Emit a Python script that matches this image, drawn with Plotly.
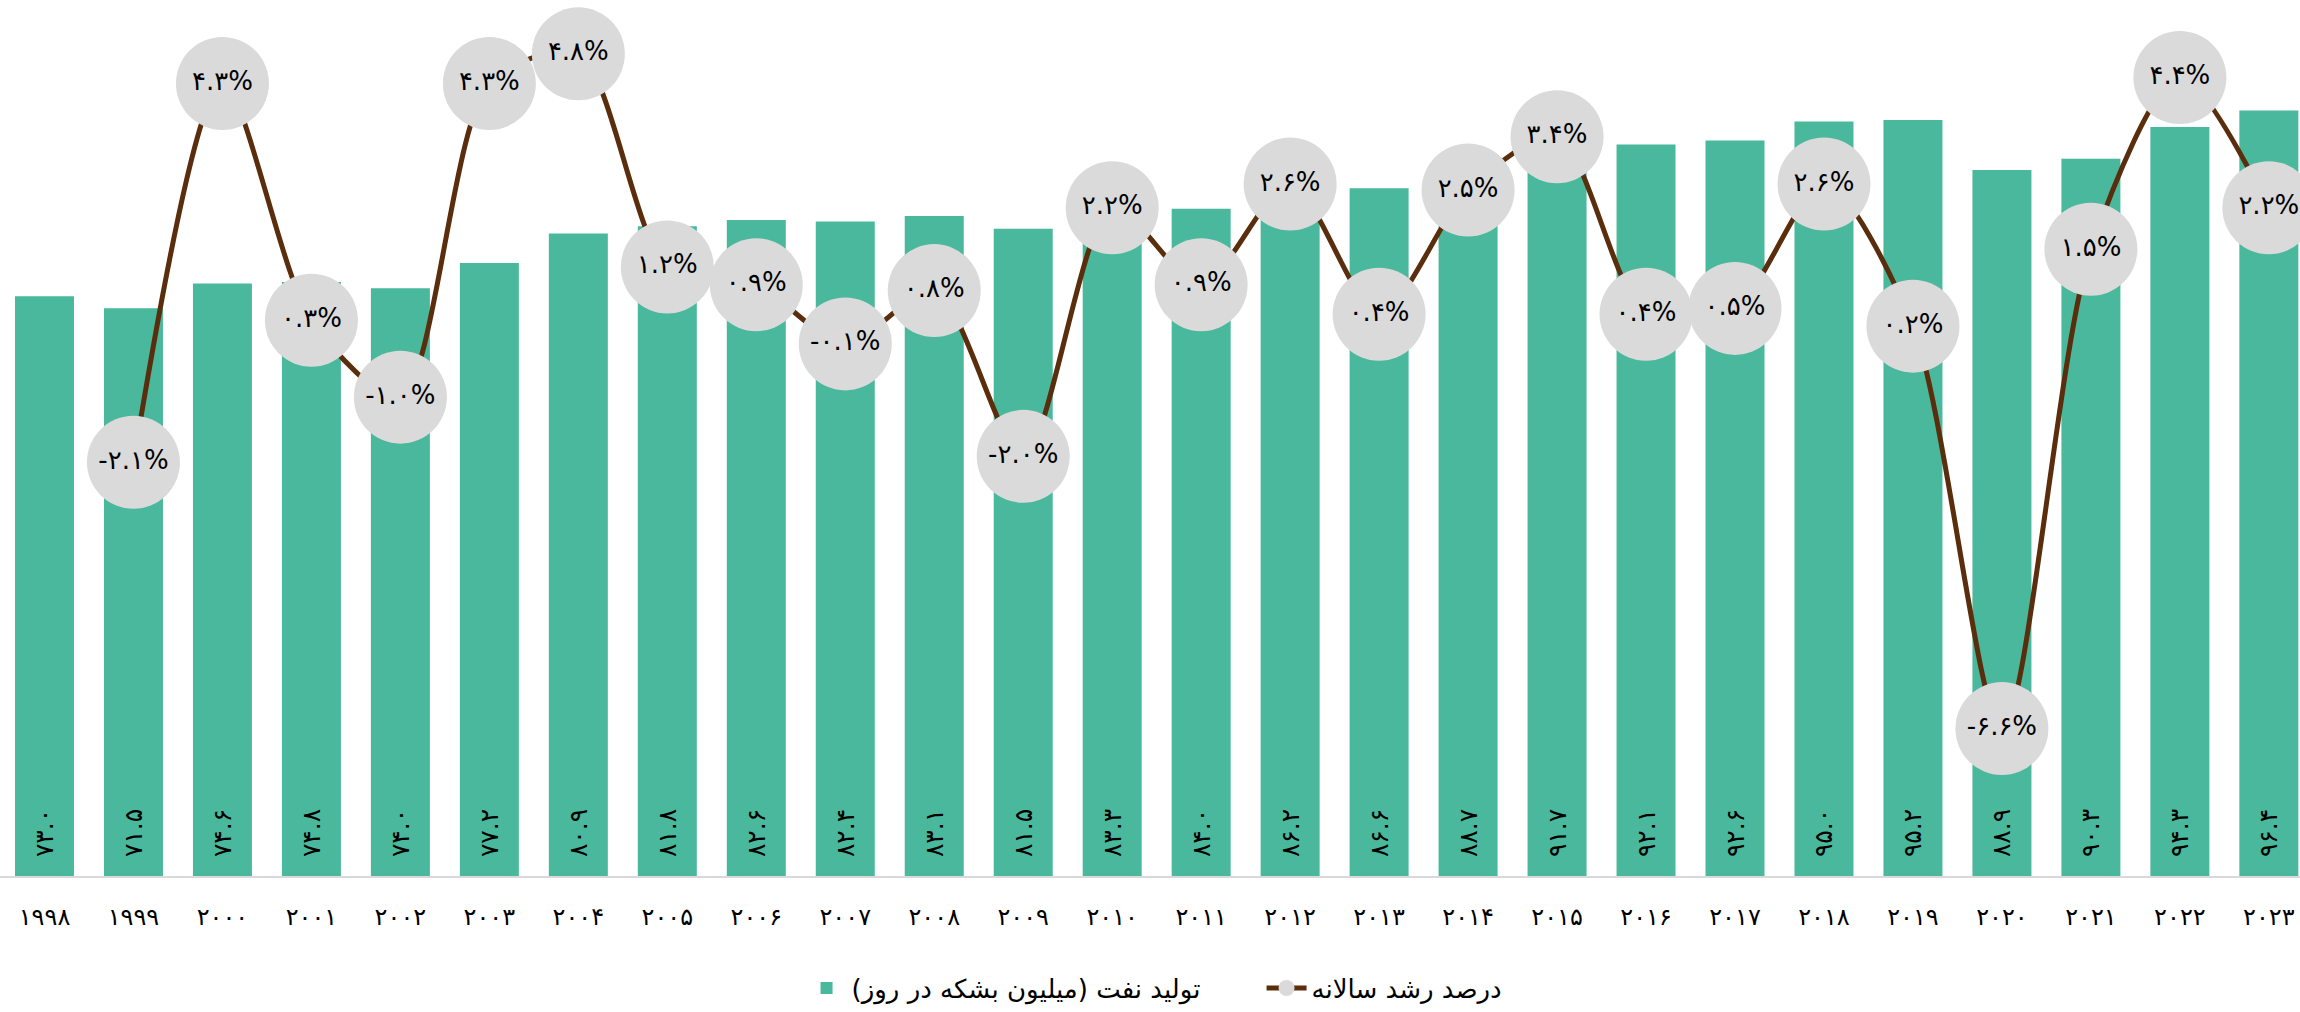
import plotly.graph_objects as go

years = [1998, 1999, 2000, 2001, 2002, 2003, 2004, 2005, 2006, 2007, 2008, 2009, 2010,
         2011, 2012, 2013, 2014, 2015, 2016, 2017, 2018, 2019, 2020, 2021, 2022, 2023]
production = [73.0, 71.5, 74.6, 74.8, 74.0, 77.2, 80.9, 81.8, 82.6, 82.4, 83.1, 81.5, 83.3,
              84.0, 86.2, 86.6, 88.7, 91.7, 92.1, 92.6, 95.0, 95.2, 88.9, 90.3, 94.3, 96.4]
growth = [None, -2.1, 4.3, 0.3, -1.0, 4.3, 4.8, 1.2, 0.9, -0.1, 0.8, -2.0, 2.2,
          0.9, 2.6, 0.4, 2.5, 3.4, 0.4, 0.5, 2.6, 0.2, -6.6, 1.5, 4.4, 2.2]

bar_name = "تولید نفت (میلیون بشکه در روز)\u200f"
line_name = "درصد رشد سالانه"

FA = str.maketrans("0123456789", "۰۱۲۳۴۵۶۷۸۹")


def fa(s):
    return s.translate(FA)


year_labels = [fa(str(y)) for y in years]
prod_labels = ["\u00a0\u00a0" + fa(f"{v:.1f}") for v in production]
growth_labels = [fa(f"{g:.1f}%") if g is not None else "" for g in growth]

FONT = "DejaVu Sans"

fig = go.Figure()
fig.add_trace(go.Bar(
    x=year_labels, y=production, name=bar_name,
    marker=dict(color="#49B89C", line=dict(width=0)),
    text=prod_labels, textposition="inside", insidetextanchor="start",
    textangle=-90, textfont=dict(size=25, color="black", family=FONT),
    hoverinfo="skip",
))
fig.add_trace(go.Scatter(
    x=year_labels, y=growth, name=line_name, yaxis="y2",
    mode="lines+markers+text",
    line=dict(color="#5A2D0C", width=5, shape="spline", smoothing=0.8),
    marker=dict(size=93, color="#DADADA", line=dict(width=0)),
    text=growth_labels, textposition="middle center",
    textfont=dict(size=26, color="black", family=FONT),
    cliponaxis=False, connectgaps=False, hoverinfo="skip",
))

fig.update_layout(
    width=2300, height=1012,
    margin=dict(l=0, r=0, t=0, b=127),
    paper_bgcolor="white", plot_bgcolor="white",
    font=dict(family=FONT, size=22, color="black"),
    bargap=0.337,
    showlegend=True,
    legend=dict(orientation="h", x=0.3485, xanchor="left", y=-0.128, yanchor="middle",
                entrywidth=405, itemwidth=40,
                font=dict(size=26, family=FONT, color="black"), traceorder="normal"),
    xaxis=dict(type="category", range=[-0.5, 25.35], showline=True, linecolor="#D9D9D9",
               linewidth=2, ticks="", ticklabelstandoff=18, showgrid=False, zeroline=False,
               tickfont=dict(size=24, family=FONT, color="black")),
    yaxis=dict(range=[0, 110.3], visible=False, showgrid=False, zeroline=False),
    yaxis2=dict(range=[-9.09, 5.71], overlaying="y", visible=False, showgrid=False,
                zeroline=False),
)

fig.write_html("out.html", config={"displayModeBar": False},
               post_script="document.body.style.margin='0';")
